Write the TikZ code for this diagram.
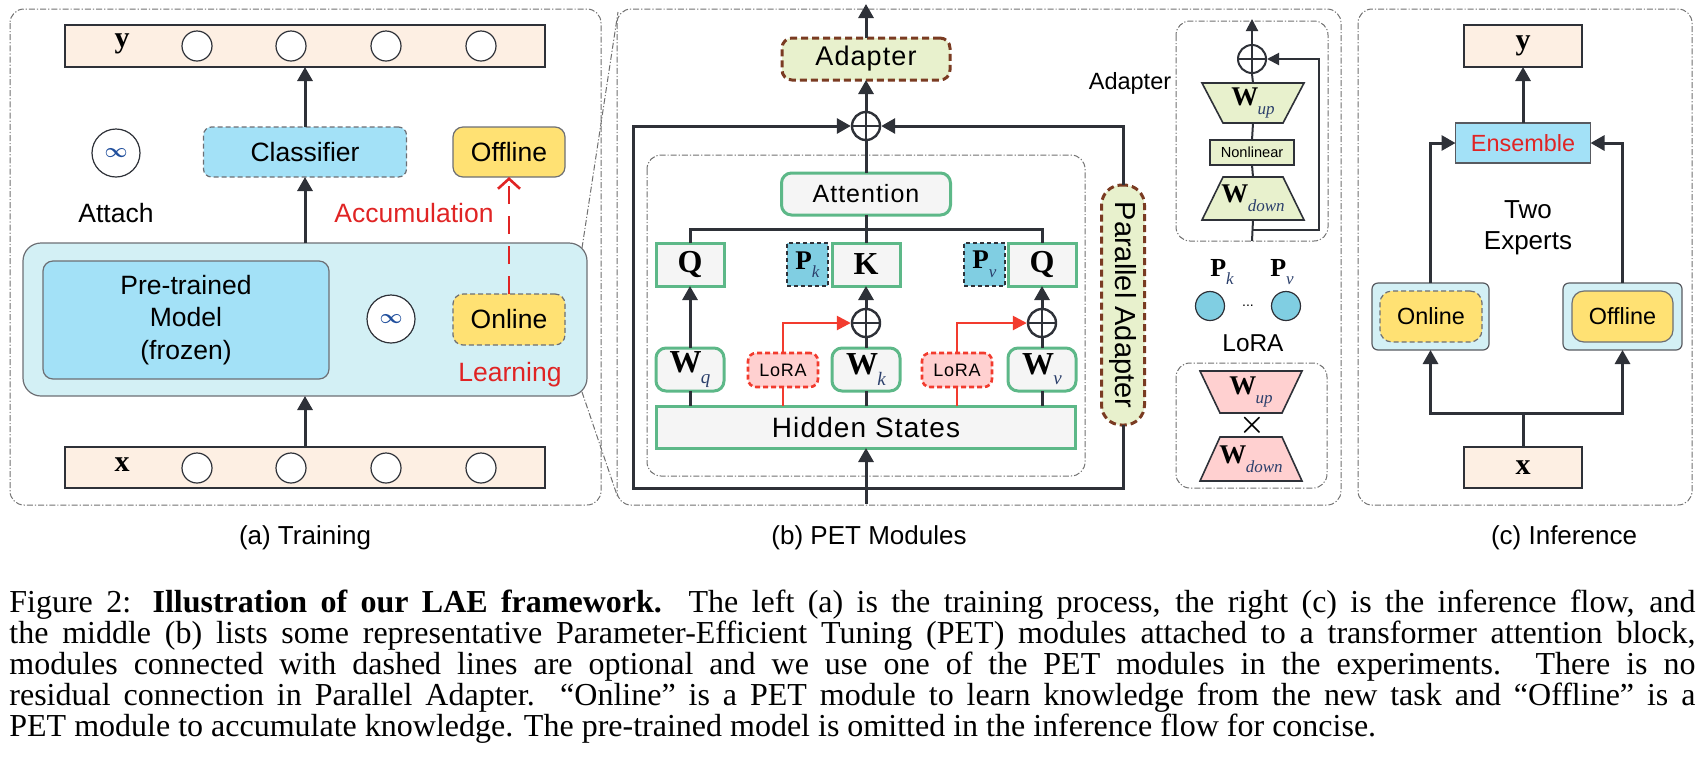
\documentclass[tikz,border=0pt]{standalone}
\usepackage{fontspec}
\setmainfont{Liberation Sans}
\newfontfamily\tnr{Liberation Serif}
\newfontfamily\spsans{Liberation Sans}[LetterSpace=4]
\usetikzlibrary{arrows.meta,calc}
\definecolor{peach}{HTML}{FDEFE3}
\definecolor{lblue}{HTML}{A3E1F7}
\definecolor{lcyan}{HTML}{D3F0F5}
\definecolor{yel}{HTML}{FFE173}
\definecolor{redt}{HTML}{E02424}
\definecolor{adfill}{HTML}{E8F1CD}
\definecolor{adbrown}{HTML}{7A3B22}
\definecolor{grn}{HTML}{5DB888}
\definecolor{hsfill}{HTML}{F5F5F5}
\definecolor{pfill}{HTML}{80CEE2}
\definecolor{lorafill}{HTML}{FFD0D0}
\definecolor{lorared}{HTML}{F23B2E}
\definecolor{pinkfill}{HTML}{FFD0D0}
\definecolor{dk}{HTML}{2E3138}
\definecolor{subc}{HTML}{2B3F6B}
\definecolor{infc}{HTML}{1F4E9C}
\definecolor{framec}{HTML}{707070}
\newcommand\bQ{{\tnr\bfseries Q}}
\newcommand\bK{{\tnr\bfseries K}}
\newcommand\Wsub[1]{{\tnr\bfseries W}\kern-0.02em\raisebox{-0.6ex}{\fontsize{9.5}{9.5}\selectfont\tnr\itshape\color{subc}#1}}
\newcommand\Wsm[1]{{\tnr\bfseries W}\kern-0.02em\raisebox{-0.6ex}{\fontsize{8.5}{8.5}\selectfont\tnr\itshape\color{subc}#1}}
\newcommand\Psub[1]{{\tnr\bfseries P}\raisebox{-0.6ex}{\fontsize{8.5}{8.5}\selectfont\tnr\itshape\color{subc}#1}}
\tikzset{
  wh/.style 2 args={minimum width=#1*0.5pt, minimum height=#2*0.5pt, inner sep=0pt, outer sep=0pt},
  arr/.style={draw=dk, line width=1.5pt, -{Triangle[length=7pt,width=7.5pt]}},
  sarr/.style={draw=dk, line width=1pt, -{Triangle[length=6pt,width=6pt]}},
  ln/.style={draw=dk, line width=1.5pt},
  sln/.style={draw=dk, line width=1pt},
  frame/.style={draw=framec, line width=0.5pt, dash pattern=on 3pt off 1pt on 0.6pt off 1pt, rounded corners=7pt},
  zoomln/.style={draw=framec, line width=0.5pt, dash pattern=on 3pt off 1pt on 0.6pt off 1pt},
  bar/.style={draw=dk, line width=0.8pt, fill=peach},
  neuron/.style={circle, draw=dk, line width=0.6pt, fill=white, minimum size=15pt, inner sep=0pt},
  infcirc/.style={circle, draw=dk, line width=0.6pt, fill=white, minimum size=24pt, inner sep=0pt, font=\fontsize{10}{10}\selectfont\boldmath, text=infc},
  tfont/.style={font=\fontsize{13.25}{16.25}\selectfont},
  cfont/.style={font=\fontsize{11.7}{15.5}\selectfont},
  xyfont/.style={font=\fontsize{15}{15}\selectfont\tnr\bfseries},
  gbox/.style={draw=grn, line width=1.5pt, fill=hsfill},
  pbox/.style={draw=dk, line width=1.3pt, dash pattern=on 2pt off 1.5pt, fill=pfill, font=\fontsize{13.5}{13.5}\selectfont},
  lorabox/.style={wh={70}{34}, draw=lorared, line width=1.3pt, dash pattern=on 2.5pt off 1.5pt, fill=lorafill, rounded corners=4pt, font=\fontsize{9}{9}\selectfont\spsans},
  rarr/.style={draw=lorared, line width=1.3pt, -{Triangle[length=7pt,width=7pt]}},
  adbox/.style={draw=adbrown, line width=1.5pt, dash pattern=on 3.5pt off 2pt, fill=adfill},
  oplus/.style={circle, draw=dk, line width=1.2pt, fill=white, minimum size=14pt, inner sep=0pt,
    path picture={\draw[dk, line width=1.2pt] (path picture bounding box.north) -- (path picture bounding box.south) (path picture bounding box.west) -- (path picture bounding box.east);}},
  soplus/.style={oplus, line width=1pt},
  sub/.style={font=\fontsize{13}{13}\selectfont, anchor=base},
}
\begin{document}
\begin{tikzpicture}[x=0.5pt,y=-0.5pt]
\useasboundingbox (0,0) rectangle (1707,783);

%================ (a) Training
\draw[frame] (10,9) rectangle (601,505);
\node[bar, wh={480}{42}] (ya) at (305,46) {};
\node[xyfont] (yalab) at (122,44) {y};
\foreach \i/\x in {1/197,2/291,3/386,4/481} \node[neuron] (yn\i) at (\x,46) {};
\node[wh={203}{50}, draw=dk!70, dash pattern=on 2.5pt off 1.5pt, line width=0.6pt, fill=lblue, rounded corners=4pt, tfont] (cls) at (305,152) {Classifier};
\node[infcirc] (inf1) at (116,153) {$\infty$};
\node[tfont] (attach) at (116,213) {Attach};
\node[wh={112}{50}, draw=dk!70, line width=0.6pt, fill=yel, rounded corners=5pt, tfont] (offa) at (509,152) {Offline};
\node[tfont, text=redt] (acc) at (414,213) {Accumulation};
\node[wh={564}{153}, draw=dk!70, fill=lcyan, rounded corners=9pt, line width=0.6pt] (big) at (305,319.5) {};
\node[wh={286}{118}, draw=dk!70, fill=lblue, rounded corners=5pt, line width=0.6pt, tfont, align=center] (ptm) at (186,320) {Pre-trained\\Model\\(frozen)};
\node[infcirc] (inf2) at (391,319) {$\infty$};
\node[wh={112}{51}, draw=dk!70, dash pattern=on 2.5pt off 1.5pt, line width=0.6pt, fill=yel, rounded corners=5pt, tfont] (ona) at (509,319.5) {Online};
\node[tfont, text=redt] (learn) at (510,375) {Learning};
\node[bar, wh={480}{41}] (xa) at (305,467.5) {};
\node[xyfont] (xalab) at (122,465) {x};
\foreach \i/\x in {1/197,2/291,3/386,4/481} \node[neuron] (xn\i) at (\x,468) {};
\draw[arr] (cls.north) -- (ya.south);
\draw[arr] (big.north) -- (cls.south);
\draw[arr] (xa.north) -- (big.south);
\draw[draw=redt, line width=1.3pt, dash pattern=on 9pt off 6pt, -{Straight Barb[length=5pt,width=11pt]}] (ona.north) -- (offa.south);
% zoom lines
\coordinate (za) at (582,248);
\coordinate (zb) at (618,12);
\coordinate (zc) at (582,392);
\coordinate (zd) at (618,498);
\draw[zoomln] (za) -- (zb);
\draw[zoomln] (zc) -- (zd);

%================ (b) PET Modules
\draw[frame] (617,9) rectangle (1341,505);
\draw[frame] (647,155) rectangle (1085,476);
\node[wh={168}{42}, adbox, rounded corners=5pt, font=\fontsize{13.5}{13.5}\selectfont\spsans] (adp) at (866,59) {Adapter};
\coordinate (btop) at (866,4);
\draw[arr] (adp.north) -- (btop);
\node[oplus] (pl) at (866,126) {};
\draw[arr] (pl.north) -- (adp.south);
\node[gbox, rounded corners=5pt, wh={169}{42}, font=\fontsize{12.5}{12.5}\selectfont\spsans] (attn) at (866,194) {Attention};
\draw[ln] (attn.north) -- (pl.south);
\node[gbox, wh={68}{43}, font=\fontsize{16}{16}\selectfont] (q1) at (690,264.5) {\bQ};
\node[gbox, wh={68}{43}, font=\fontsize{16}{16}\selectfont] (k) at (866,264.5) {\bK};
\node[gbox, wh={68}{43}, font=\fontsize{16}{16}\selectfont] (q2) at (1042,264.5) {\bQ};
\node[pbox, wh={41}{43}] (pk) at (807.5,264.5) {\Psub{k}};
\node[pbox, wh={41}{43}] (pv) at (984.5,264.5) {\Psub{v}};
\draw[ln] (attn.south) -- (k.north);
\draw[ln] (q1.north) -- ++(0,-14) -| (q2.north);
\node[gbox, rounded corners=5pt, wh={68}{43}, font=\fontsize{16}{16}\selectfont] (wq) at (690,369.5) {\Wsub{q}};
\node[gbox, rounded corners=5pt, wh={68}{43}, font=\fontsize{16}{16}\selectfont] (wk) at (866,369.5) {\Wsub{k}};
\node[gbox, rounded corners=5pt, wh={68}{43}, font=\fontsize{16}{16}\selectfont] (wv) at (1042,369.5) {\Wsub{v}};
\node[oplus] (plk) at (866,323) {};
\node[oplus] (plv) at (1042,323) {};
\node[lorabox] (lo1) at (783,370) {LoRA};
\node[lorabox] (lo2) at (957,370) {LoRA};
\node[gbox, wh={419}{42}, font=\fontsize{14}{14}\selectfont\spsans] (hs) at (866,427) {Hidden States};
\draw[arr] (wq.north) -- (q1.south);
\draw[ln] (wk.north) -- (plk.south);
\draw[arr] (plk.north) -- (k.south);
\draw[ln] (wv.north) -- (plv.south);
\draw[arr] (plv.north) -- (q2.south);
\draw[rarr] (lo1.north) |- (plk.west);
\draw[rarr] (lo2.north) |- (plv.west);
\draw[ln] (wq.south |- hs.north) -- (wq.south);
\draw[ln] (wk.south |- hs.north) -- (wk.south);
\draw[ln] (wv.south |- hs.north) -- (wv.south);
\draw[draw=lorared, line width=1.3pt] (lo1.south |- hs.north) -- (lo1.south);
\draw[draw=lorared, line width=1.3pt] (lo2.south |- hs.north) -- (lo2.south);
\coordinate (bin) at (866,504);
\draw[arr] (bin) -- (hs.south);
% parallel adapter and residual
\node[wh={43}{240}, adbox, rounded corners=10pt] (pa) at (1123,305) {};
\node[rotate=-90, font=\fontsize{14.5}{14.5}\selectfont] (patxt) at (pa.center) {Parallel Adapter};
\coordinate (rb) at (866,488);
\coordinate (rl) at (633,488);
\coordinate (rr) at (1123,488);
\draw[arr] (rb) -- (rl) |- (pl.west);
\draw[ln] (rb) -- (rr) -- (pa.south);
\draw[arr] (pa.north) |- (pl.east);
% adapter detail
\node[font=\fontsize{11.75}{11.75}\selectfont] (adlab) at (1130,83) {Adapter};
\draw[frame] (1176,21) rectangle (1328,241);
\node[soplus] (pla) at (1252,59) {};
\coordinate (atop) at (1252,19);
\draw[sarr] (pla.north) -- (atop);
\node[wh={102}{40}] (wup) at (1253,103) {};
\draw[draw=dk, line width=0.8pt, fill=adfill] (wup.north west) -- (wup.north east) -- ($(wup.south east)+(-21,0)$) -- ($(wup.south west)+(21,0)$) -- cycle;
\node[font=\fontsize{13.5}{13.5}\selectfont] at (wup) {\Wsm{up}};
\node[wh={84}{25}, draw=dk, fill=adfill, line width=0.6pt, font=\fontsize{7.3}{7.3}\selectfont] (nl) at (1252,152.5) {Nonlinear};
\node[wh={102}{43}] (wdn) at (1253,198.5) {};
\draw[draw=dk, line width=0.8pt, fill=adfill] (wdn.south west) -- (wdn.south east) -- ($(wdn.north east)+(-21,0)$) -- ($(wdn.north west)+(21,0)$) -- cycle;
\node[font=\fontsize{13.5}{13.5}\selectfont] at (wdn) {\Wsm{down}};
\draw[sln] (pla.south) -- (wup.north);
\draw[sln] (wup.south) -- (nl.north);
\draw[sln] (nl.south) -- (wdn.north);
\coordinate (abot) at (1252,241);
\coordinate (ares) at (1252,230);
\coordinate (aright) at (1319,230);
\draw[sln] (wdn.south) -- (abot);
\draw[sarr] (ares) -- (aright) |- (pla.east);
% prefix
\node[font=\fontsize{13}{13}\selectfont] (pklab) at (1222,272) {\Psub{k}};
\node[font=\fontsize{13}{13}\selectfont] (pvlab) at (1282,272) {\Psub{v}};
\node[circle, fill=pfill, draw=dk, line width=0.6pt, minimum size=14.5pt, inner sep=0pt] (c1) at (1210,306) {};
\node[circle, fill=pfill, draw=dk, line width=0.6pt, minimum size=14.5pt, inner sep=0pt] (c2) at (1286,306) {};
\node[font=\fontsize{7}{7}\selectfont] (dots) at (1248,306) {...};
\node[font=\fontsize{12.2}{12.2}\selectfont] (loralab) at (1253,343) {LoRA};
\draw[frame] (1176,363) rectangle (1327,488);
\node[wh={102}{42}] (lwup) at (1251,392) {};
\draw[draw=dk, line width=0.8pt, fill=pinkfill] (lwup.north west) -- (lwup.north east) -- ($(lwup.south east)+(-20,0)$) -- ($(lwup.south west)+(20,0)$) -- cycle;
\node[font=\fontsize{13.5}{13.5}\selectfont] at (lwup) {\Wsm{up}};
\node[font=\fontsize{15}{15}\selectfont\boldmath] (times) at (1252,425) {$\times$};
\node[wh={102}{44}] (lwdn) at (1251,459) {};
\draw[draw=dk, line width=0.8pt, fill=pinkfill] (lwdn.south west) -- (lwdn.south east) -- ($(lwdn.north east)+(-20,0)$) -- ($(lwdn.north west)+(20,0)$) -- cycle;
\node[font=\fontsize{13.5}{13.5}\selectfont] at (lwdn) {\Wsm{down}};

%================ (c) Inference
\draw[frame] (1358,9) rectangle (1692,505);
\node[bar, wh={118}{42}, xyfont] (yc) at (1523,46) {y};
\node[wh={135}{40}, draw=dk!80, fill=lblue, line width=0.8pt, text=redt, cfont] (ens) at (1523,143) {Ensemble};
\draw[arr] (ens.north) -- (yc.south);
\node[align=center, font=\fontsize{13}{15.5}\selectfont] (two) at (1528,228) {Two\\Experts};
\node[wh={117}{67}, draw=dk!80, fill=lcyan, line width=0.6pt, rounded corners=3pt] (onc) at (1430.5,316.5) {};
\node[wh={102}{51}, draw=dk!70, dash pattern=on 2.5pt off 1.5pt, line width=0.6pt, fill=yel, rounded corners=6pt, cfont] (onci) at (1431,316.5) {Online};
\node[wh={119}{67}, draw=dk!80, fill=lcyan, line width=0.6pt, rounded corners=3pt] (offc) at (1622.5,316.5) {};
\node[wh={101}{51}, draw=dk!70, line width=0.6pt, fill=yel, rounded corners=6pt, cfont] (offci) at (1622.5,316.5) {Offline};
\draw[arr] (onc.north) |- (ens.west);
\draw[arr] (offc.north) |- (ens.east);
\node[bar, wh={118}{41}, xyfont] (xc) at (1523,467.5) {x};
\coordinate (split) at (1523,413);
\draw[ln] (xc.north) -- (split);
\draw[arr] (split) -| (onc.south);
\draw[arr] (split) -| (offc.south);

%================ sub captions
\node[sub] (capa) at (305,544) {(a) Training};
\node[sub] (capb) at (869,544) {(b) PET Modules};
\node[sub] (capc) at (1564,544) {(c) Inference};

%================ caption
\node[anchor=base west, inner sep=0pt] (cap) at (9,612) {\begin{minipage}[t]{843pt}\tnr\fontsize{16}{15.5}\selectfont\setlength\parindent{0pt}%
\makebox[\linewidth][s]{Figure 2: \textbf{Illustration of our LAE framework.} The left (a) is the training process, the right (c) is the inference flow, and}\\
\makebox[\linewidth][s]{the middle (b) lists some representative Parameter-Efficient Tuning (PET) modules attached to a transformer attention block,}\\
\makebox[\linewidth][s]{modules connected with dashed lines are optional and we use one of the PET modules in the experiments. There is no}\\
\makebox[\linewidth][s]{residual connection in Parallel Adapter. “Online” is a PET module to learn knowledge from the new task and “Offline” is a}\\
PET module to accumulate knowledge. The pre-trained model is omitted in the inference flow for concise.
\end{minipage}};
\end{tikzpicture}
\end{document}
